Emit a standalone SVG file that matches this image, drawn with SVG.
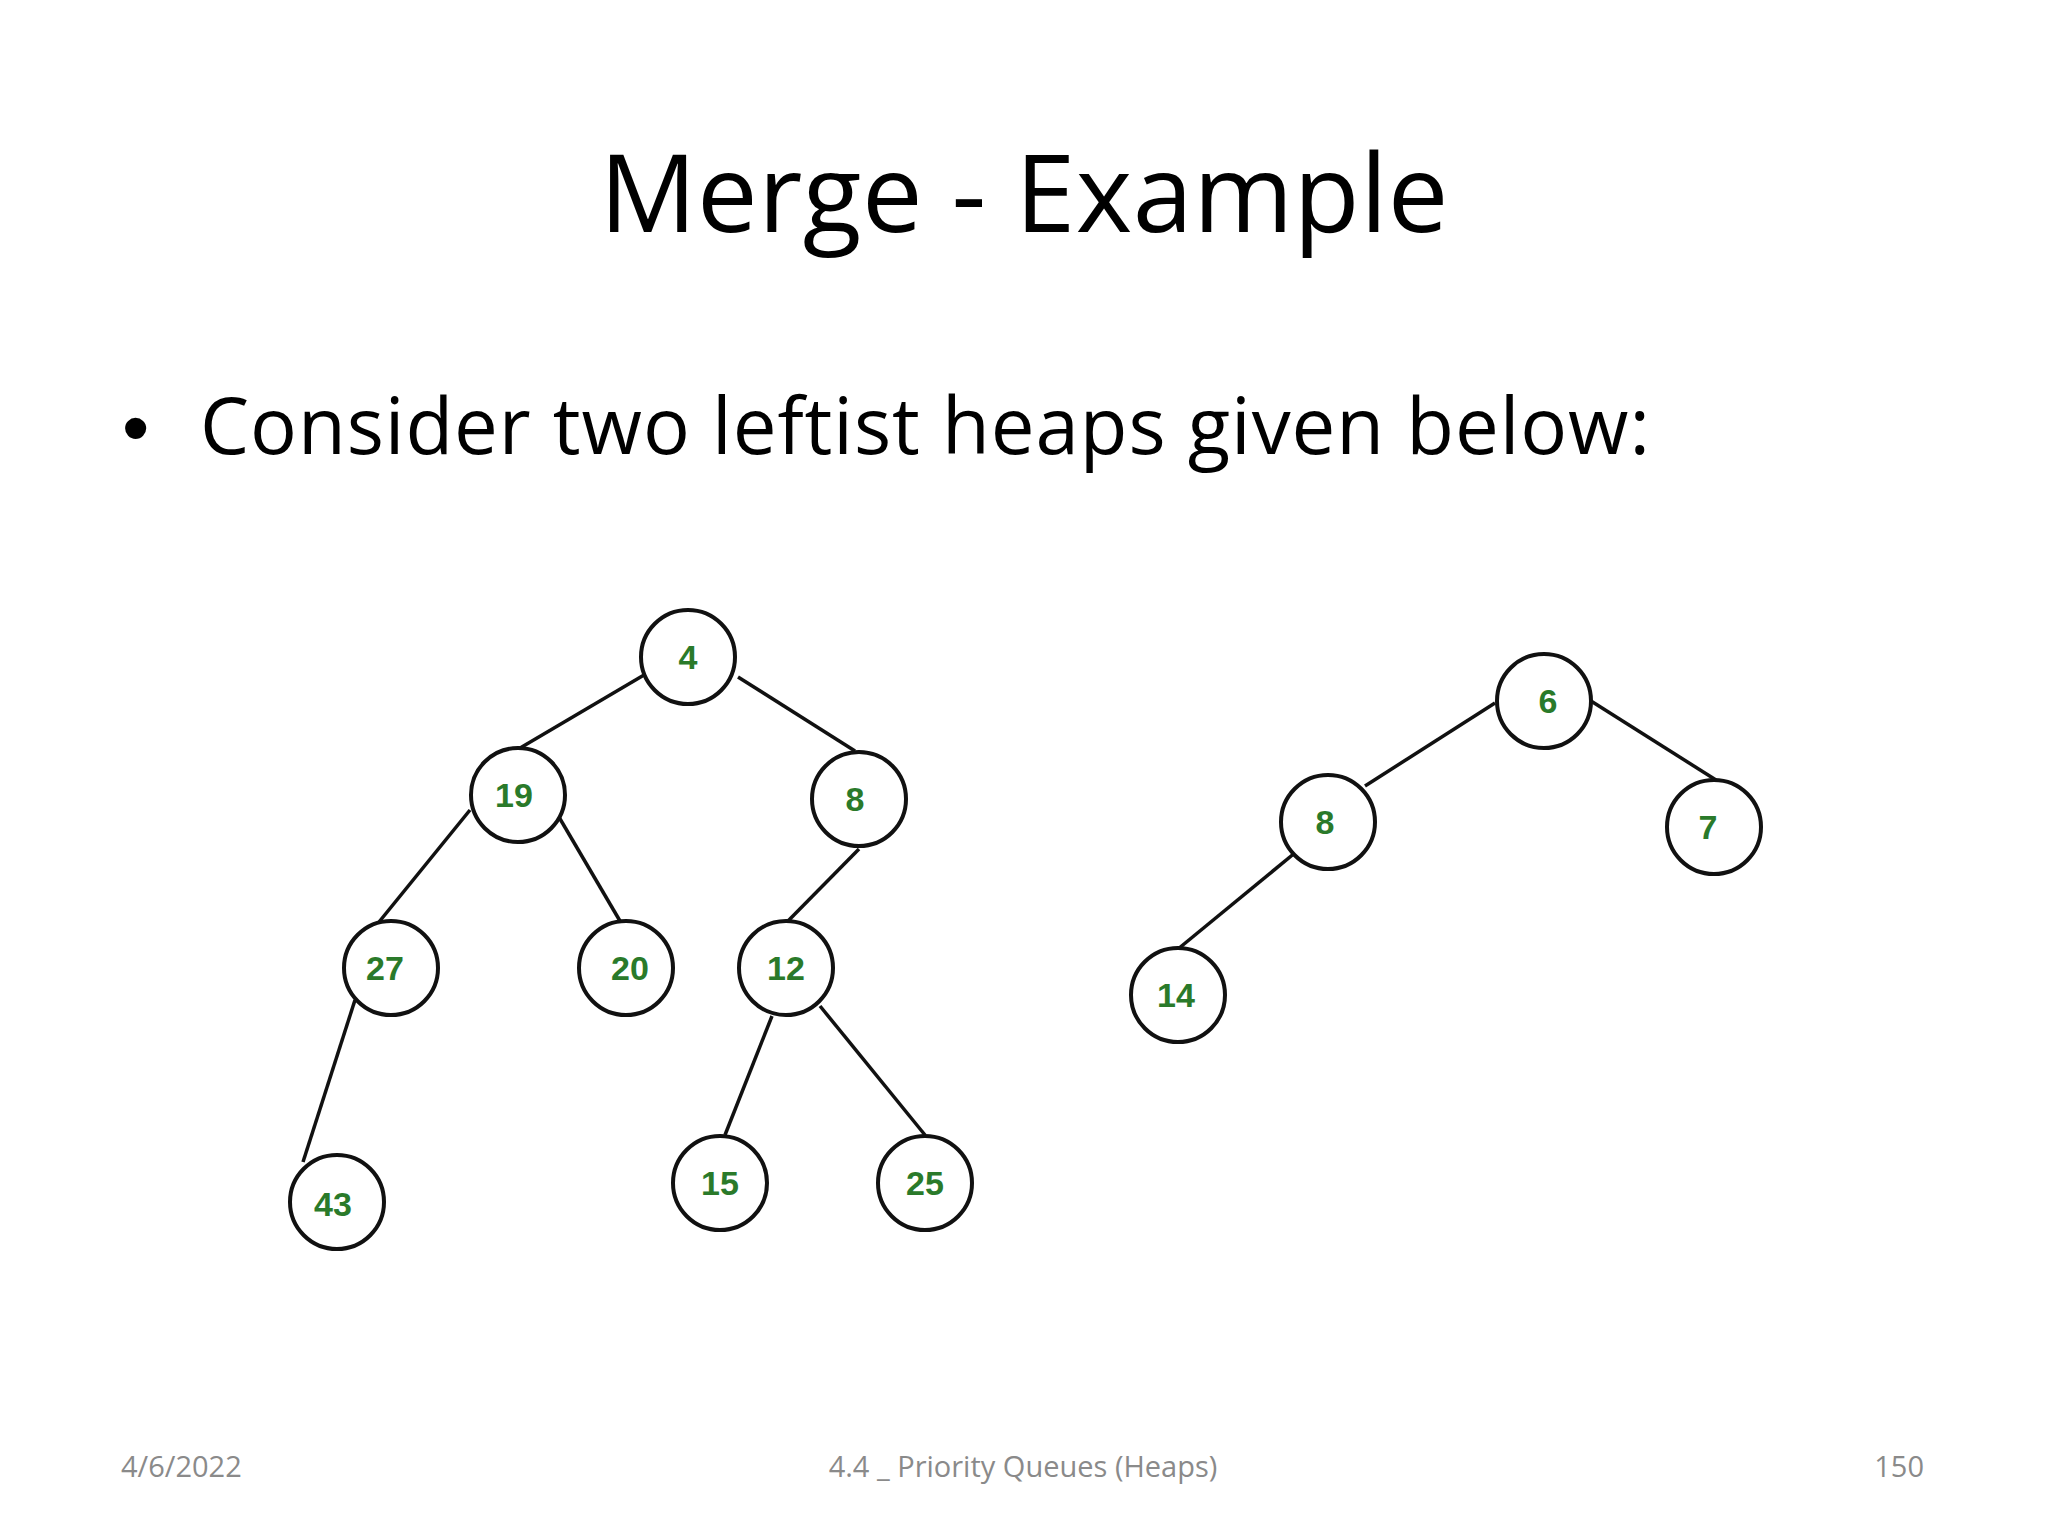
<svg xmlns="http://www.w3.org/2000/svg" width="2048" height="1536" viewBox="0 0 2048 1536">
<style>
.n circle{fill:#fff;stroke:#111;stroke-width:4}
.n text{font-family:"Liberation Sans",Arial,sans-serif;font-weight:bold;font-size:34px;fill:#2a7a2a;text-anchor:middle;dominant-baseline:central}
#edges line{stroke:#111;stroke-width:3.5}
.ft{font-family:"Open Sans","Liberation Sans",sans-serif;font-size:29px;fill:#8a8a8a}
</style>
<rect width="2048" height="1536" fill="#fff"/>
<text x="1024" y="232" text-anchor="middle" font-family="Open Sans, Liberation Sans, sans-serif" font-size="108" textLength="849" fill="#000">Merge - Example</text>
<text x="122" y="454" font-family="Liberation Sans, sans-serif" font-size="78" fill="#000">•</text>
<text x="200" y="454" font-family="Open Sans, Liberation Sans, sans-serif" font-size="78" textLength="1450" fill="#000">Consider two leftist heaps given below:</text>
<g id="edges">
<line x1="644" y1="675" x2="515" y2="751"/>
<line x1="738" y1="677" x2="855" y2="751"/>
<line x1="470" y1="810" x2="379" y2="922"/>
<line x1="556" y1="812" x2="620" y2="921"/>
<line x1="859" y1="849" x2="788" y2="921"/>
<line x1="355" y1="1000" x2="303" y2="1162"/>
<line x1="772" y1="1016" x2="725" y2="1135"/>
<line x1="820" y1="1006" x2="925" y2="1135"/>
<line x1="1495" y1="703" x2="1365" y2="786"/>
<line x1="1591" y1="701" x2="1716" y2="780"/>
<line x1="1296" y1="852" x2="1178" y2="949"/>
</g>
<g id="n4" class="n"><circle cx="688" cy="657" r="47"/><text x="688" y="657">4</text></g>
<g id="n19" class="n"><circle cx="518" cy="795" r="47"/><text x="514" y="795">19</text></g>
<g id="n8" class="n"><circle cx="859" cy="799" r="47"/><text x="855" y="799">8</text></g>
<g id="n27" class="n"><circle cx="391" cy="968" r="47"/><text x="385" y="968">27</text></g>
<g id="n20" class="n"><circle cx="626" cy="968" r="47"/><text x="630" y="968">20</text></g>
<g id="n12" class="n"><circle cx="786" cy="968" r="47"/><text x="786" y="968">12</text></g>
<g id="n43" class="n"><circle cx="337" cy="1202" r="47"/><text x="333" y="1204">43</text></g>
<g id="n15" class="n"><circle cx="720" cy="1183" r="47"/><text x="720" y="1183">15</text></g>
<g id="n25" class="n"><circle cx="925" cy="1183" r="47"/><text x="925" y="1183">25</text></g>
<g id="n6" class="n"><circle cx="1544" cy="701" r="47"/><text x="1548" y="701">6</text></g>
<g id="n8b" class="n"><circle cx="1328" cy="822" r="47"/><text x="1325" y="822">8</text></g>
<g id="n7" class="n"><circle cx="1714" cy="827" r="47"/><text x="1708" y="827">7</text></g>
<g id="n14" class="n"><circle cx="1178" cy="995" r="47"/><text x="1176" y="995">14</text></g>
<text class="ft" x="121" y="1477">4/6/2022</text>
<text class="ft" x="1023" y="1477" text-anchor="middle">4.4 _ Priority Queues (Heaps)</text>
<text class="ft" x="1924" y="1477" text-anchor="end">150</text>
</svg>
